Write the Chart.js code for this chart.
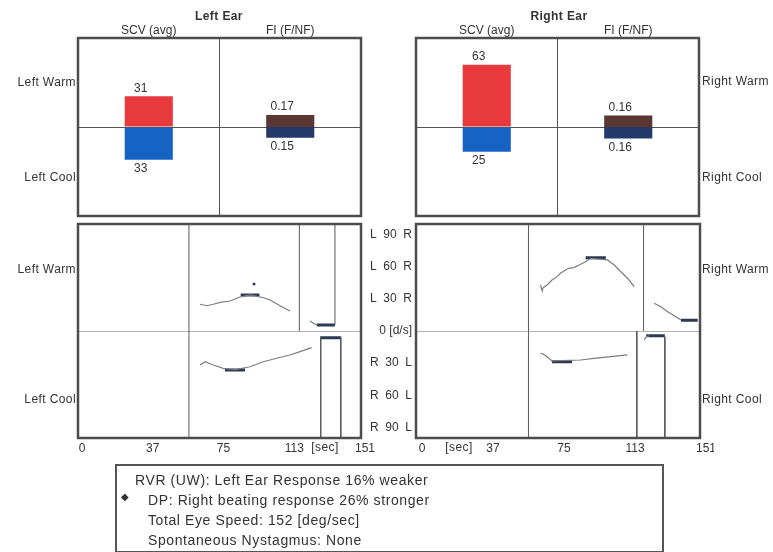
<!DOCTYPE html>
<html>
<head>
<meta charset="utf-8">
<script src="https://cdn.jsdelivr.net/npm/chart.js@4.4.1/dist/chart.umd.min.js"></script>
<style>
  html, body { margin: 0; padding: 0; background: #fff; }
  #page { position: relative; width: 773px; height: 552px; overflow: hidden; background: #fff;
          font-family: "Liberation Sans", Arial, sans-serif; color: #333; }
  #page canvas { position: absolute; }
  .lbl { position: absolute; font-size: 12px; line-height: 14px; white-space: nowrap; letter-spacing: 0.4px; }
  .c { transform: translate(-50%, -50%); }
  .l { transform: translateY(-50%); }
  .r { transform: translate(-100%, -50%); }
  .title { font-weight: bold; }
  #notes { position: absolute; left: 115px; top: 464px; width: 545px; height: 81px;
           border: 2px solid #555; font-size: 14px; line-height: 20px; letter-spacing: 0.6px;
           padding-top: 4px; box-sizing: content-box; }
  #notes div { padding-left: 31px; }
  #notes div.first { padding-left: 18px; }
  #notes .bullet { position: absolute; left: 4px; top: 26px; font-size: 10px; line-height: 10px; letter-spacing: 0; padding: 0; }
</style>
</head>
<body>
<div id="page">
  <canvas id="left-ear"></canvas>
  <canvas id="right-ear"></canvas>
  <canvas id="left-trace"></canvas>
  <canvas id="right-trace"></canvas>

  <div class="lbl c title" style="left:219px;top:16px">Left Ear</div>
  <div class="lbl c title" style="left:559px;top:16px">Right Ear</div>

  <div class="lbl r" style="left:76px;top:82px">Left Warm</div>
  <div class="lbl r" style="left:76px;top:177px">Left Cool</div>
  <div class="lbl l" style="left:702px;top:81px">Right Warm</div>
  <div class="lbl l" style="left:702px;top:177px">Right Cool</div>

  <div class="lbl r" style="left:76px;top:269px">Left Warm</div>
  <div class="lbl r" style="left:76px;top:399px">Left Cool</div>
  <div class="lbl l" style="left:702px;top:269px">Right Warm</div>
  <div class="lbl l" style="left:702px;top:399px">Right Cool</div>

  <div class="lbl c" style="left:325px;top:447px">[sec]</div>
  <div class="lbl c" style="left:459px;top:447px">[sec]</div>

  <div id="notes">
    <div class="first">RVR (UW): Left Ear Response 16% weaker</div>
    <div>DP: Right beating response 26% stronger</div>
    <div>Total Eye Speed: 152 [deg/sec]</div>
    <div>Spontaneous Nystagmus: None</div>
    <span class="bullet">&#9670;</span>
  </div>
</div>

<script>
// summary bars: SCV (avg) in deg/sec, FI (F/NF) ratio
const barCategories = ['SCV (avg)', 'FI (F/NF)'];
const leftWarm = [31, 0.17];
const leftCool = [33, 0.15];
const rightWarm = [63, 0.16];
const rightCool = [25, 0.16];

// time axis + velocity axis ticks
const timeTickValues = [0, 37.75, 75.5, 113.25, 151];
const timeTickLabels = ['0', '37', '75', '113', '151'];
const velTickValues = [-90, -60, -30, 0, 30, 60, 90];
const velTickLabels = ['R  90  L', 'R  60  L', 'R  30  L', '0 [d/s]', 'L  30  R', 'L  60  R', 'L  90  R'];

// left ear slow phase velocity traces (sec, deg/sec; L positive)
const leftWarmTime = [65.1, 68.7, 72.2, 75.8, 81.1, 86.4, 91.8, 98.9, 102.5, 107.8, 113.1];
const leftWarmVel = [25.0, 23.6, 25.0, 26.8, 28.0, 31.8, 33.8, 31.1, 29.0, 23.6, 18.7];
const leftWarm2Time = [123.8, 125.6, 127.4];
const leftWarm2Vel = [9.3, 7.2, 5.6];
const leftCoolTime = [65.1, 67.8, 72.2, 77.5, 84.0, 91.8, 98.9, 106.0, 113.1, 118.5, 124.7];
const leftCoolVel = [-31.8, -28.7, -31.8, -34.9, -36.0, -33.4, -28.7, -25.5, -22.4, -19.3, -15.6];
const leftAvgStart = [86.8, 78.4, 127.4, 129.5];
const leftAvgEnd = [96.8, 89.1, 137.1, 140.2];
const leftAvgLevel = [33.6, -36.4, 5.6, -6.2];
const leftMarkTime = [59.2, 118.1, 137.1, 129.5, 140.2];
const leftMarkFrom = [-100, 0, 5.6, -5.3, -5.3];
const leftMarkTo = [100, 100, 100, -100, -100];
const leftDotTime = [93.9];
const leftDotVel = [43.9];

// right ear traces
const rightWarmTime = [66.2, 67.1, 67.6, 69.7, 72.3, 75.0, 76.8, 79.5, 81.3, 83.9, 87.5, 90.2, 92.9, 101.8, 105.4, 108.9, 112.5, 116.0];
const rightWarmVel = [43.0, 37.4, 40.5, 43.0, 47.7, 50.8, 53.9, 57.0, 58.6, 59.2, 62.3, 64.8, 67.9, 66.4, 61.7, 55.4, 49.3, 41.4];
const rightWarm2Time = [126.6, 130.2, 133.8, 138.2, 140.9];
const rightWarm2Vel = [25.9, 22.7, 18.0, 13.4, 10.3];
const rightCoolTime = [66.2, 67.9, 69.7, 72.3, 87.5, 94.6, 103.5, 112.4];
const rightCoolVel = [-20.8, -21.8, -24.0, -28.0, -27.1, -25.5, -24.0, -22.4];
const rightCool2Time = [121.3, 122.4, 124.0];
const rightCool2Vel = [-8.4, -5.6, -4.4];
const rightAvgStart = [90.2, 72.3, 140.9, 122.4];
const rightAvgEnd = [100.9, 83.0, 149.8, 132.3];
const rightAvgLevel = [68.5, -28.7, 10.0, -4.4];
const rightMarkTime = [59.8, 121.0, 117.4, 132.3];
const rightMarkFrom = [-100, 0, 0, -5.3];
const rightMarkTo = [100, 100, -100, -100];

const COLORS = {
  scvWarm: '#e8393c', scvCool: '#1763c3', fiWarm: '#5a3733', fiCool: '#243a6b',
  frame: '#4d4d4d', divider: '#555', zero: '#b5b5b5', trace: '#7d7d7d', avg: '#2d3853', mark: '#5a5a5a'
};
const FONT = '"Liberation Sans", Arial, sans-serif';
Chart.defaults.font.family = FONT;
Chart.defaults.font.size = 12;
Chart.defaults.color = '#333';

const PAD = 14;

function place(canvas, area, axes) {
  const l = axes.left || 0, t = axes.top || 0, b = axes.bottom || 0;
  const w = area.w + 2 * PAD + l;
  const h = area.h + 2 * PAD + t + b;
  canvas.width = w;
  canvas.height = h;
  canvas.style.width = w + 'px';
  canvas.style.height = h + 'px';
  canvas.style.left = (area.x - PAD - l) + 'px';
  canvas.style.top = (area.y - PAD - t) + 'px';
}

const framePlugin = {
  id: 'frame',
  afterDraw(chart) {
    const { ctx, chartArea: a } = chart;
    ctx.save();
    ctx.strokeStyle = COLORS.frame;
    ctx.lineWidth = 2.5;
    ctx.strokeRect(a.left, a.top, a.right - a.left, a.bottom - a.top);
    ctx.restore();
  }
};

const valueLabels = {
  id: 'valueLabels',
  afterDatasetsDraw(chart) {
    const { ctx } = chart;
    ctx.save();
    ctx.font = '12px ' + FONT;
    ctx.fillStyle = '#333';
    ctx.textAlign = 'center';
    chart.data.datasets.forEach((ds, i) => {
      chart.getDatasetMeta(i).data.forEach((bar, j) => {
        const v = ds.data[j];
        if (v === null) return;
        const txt = ds.yAxisID === 'y2' ? Math.abs(v).toFixed(2) : String(Math.abs(v));
        if (v >= 0) {
          ctx.textBaseline = 'bottom';
          ctx.fillText(txt, bar.x - 8, bar.y - 2);
        } else {
          ctx.textBaseline = 'top';
          ctx.fillText(txt, bar.x - 8, bar.y + 3);
        }
      });
    });
    ctx.restore();
  }
};

function earChart(id, area, warm, cool) {
  const canvas = document.getElementById(id);
  place(canvas, area, { top: 16 });
  return new Chart(canvas, {
    type: 'bar',
    data: {
      labels: barCategories,
      datasets: [
        { data: [warm[0], null], backgroundColor: COLORS.scvWarm, yAxisID: 'y' },
        { data: [-cool[0], null], backgroundColor: COLORS.scvCool, yAxisID: 'y' },
        { data: [null, warm[1]], backgroundColor: COLORS.fiWarm, yAxisID: 'y2' },
        { data: [null, -cool[1]], backgroundColor: COLORS.fiCool, yAxisID: 'y2' }
      ]
    },
    options: {
      responsive: false,
      animation: false,
      devicePixelRatio: 1,
      layout: { padding: PAD },
      datasets: { bar: { barPercentage: 0.34, categoryPercentage: 1 } },
      scales: {
        x: {
          position: 'top', stacked: true,
          grid: { offset: true, color: COLORS.divider, drawTicks: false },
          border: { display: false },
          ticks: { padding: 0 },
          afterFit: s => { s.height = 16; }
        },
        y: {
          stacked: true, min: -90, max: 90,
          afterBuildTicks: s => { s.ticks = [{ value: 0 }]; },
          grid: { color: COLORS.divider, drawTicks: false },
          border: { display: false },
          ticks: { display: false },
          afterFit: s => { s.width = 0; }
        },
        y2: { stacked: true, min: -1.25, max: 1.25, display: false }
      },
      plugins: { legend: { display: false }, tooltip: { enabled: false } }
    },
    plugins: [valueLabels, framePlugin]
  });
}

function points(xs, ys) {
  return xs.map((x, i) => ({ x: x, y: ys[i] }));
}

// pieces separated by a gap point so one dataset holds several segments
function verticals(xs, from, to) {
  const out = [];
  xs.forEach((x, i) => { out.push({ x: x, y: from[i] }, { x: x, y: to[i] }, { x: x, y: null }); });
  return out;
}
function horizontals(start, end, level) {
  const out = [];
  start.forEach((s, i) => { out.push({ x: s, y: level[i] }, { x: end[i], y: level[i] }, { x: end[i], y: null }); });
  return out;
}

function traceChart(id, area, s, showVelLabels, labelOffset) {
  const canvas = document.getElementById(id);
  const leftW = showVelLabels ? 56 : 0;
  place(canvas, area, { left: leftW, bottom: 18 });
  const line = (data, color, width) => ({
    data: data, showLine: true, borderColor: color, borderWidth: width,
    pointRadius: 0, tension: 0, spanGaps: false
  });
  const datasets = [
    line(verticals(s.markTime, s.markFrom, s.markTo), COLORS.mark, 1),
    ...s.traces.map(t => line(points(t[0], t[1]), COLORS.trace, 1.2)),
    line(horizontals(s.avgStart, s.avgEnd, s.avgLevel), COLORS.avg, 3)
  ];
  if (s.dots) {
    datasets.push({ data: points(s.dots[0], s.dots[1]), pointRadius: 1.5,
                    backgroundColor: COLORS.avg, borderWidth: 0, showLine: false });
  }
  return new Chart(canvas, {
    type: 'scatter',
    data: { datasets: datasets },
    options: {
      responsive: false,
      animation: false,
      devicePixelRatio: 1,
      layout: { padding: PAD },
      scales: {
        x: {
          type: 'linear', min: 0, max: 151,
          afterBuildTicks: sc => { sc.ticks = timeTickValues.map(v => ({ value: v })); },
          ticks: { autoSkip: false, maxRotation: 0, padding: 3, labelOffset: labelOffset,
                   callback: (v, i) => timeTickLabels[i] },
          grid: { display: false, drawTicks: false },
          border: { display: false },
          afterFit: sc => { sc.height = 18; }
        },
        y: {
          min: -100, max: 100,
          afterBuildTicks: sc => { sc.ticks = velTickValues.map(v => ({ value: v })); },
          ticks: { display: showVelLabels, padding: 4, callback: (v, i) => velTickLabels[i] },
          grid: { color: c => c.tick.value === 0 ? COLORS.zero : 'transparent', drawTicks: false },
          border: { display: false },
          afterFit: sc => { sc.width = leftW; }
        }
      },
      plugins: { legend: { display: false }, tooltip: { enabled: false } }
    },
    plugins: [framePlugin]
  });
}

earChart('left-ear', { x: 78, y: 38, w: 283, h: 178 }, leftWarm, leftCool);
earChart('right-ear', { x: 416, y: 38, w: 283, h: 178 }, rightWarm, rightCool);

traceChart('left-trace', { x: 78, y: 224, w: 283, h: 214 }, {
  traces: [[leftWarmTime, leftWarmVel], [leftWarm2Time, leftWarm2Vel], [leftCoolTime, leftCoolVel]],
  avgStart: leftAvgStart, avgEnd: leftAvgEnd, avgLevel: leftAvgLevel,
  markTime: leftMarkTime, markFrom: leftMarkFrom, markTo: leftMarkTo,
  dots: [leftDotTime, leftDotVel]
}, false, 4);

traceChart('right-trace', { x: 416, y: 224, w: 284, h: 214 }, {
  traces: [[rightWarmTime, rightWarmVel], [rightWarm2Time, rightWarm2Vel], [rightCoolTime, rightCoolVel],
           [rightCool2Time, rightCool2Vel]],
  avgStart: rightAvgStart, avgEnd: rightAvgEnd, avgLevel: rightAvgLevel,
  markTime: rightMarkTime, markFrom: rightMarkFrom, markTo: rightMarkTo
}, true, 6);
</script>
</body>
</html>
